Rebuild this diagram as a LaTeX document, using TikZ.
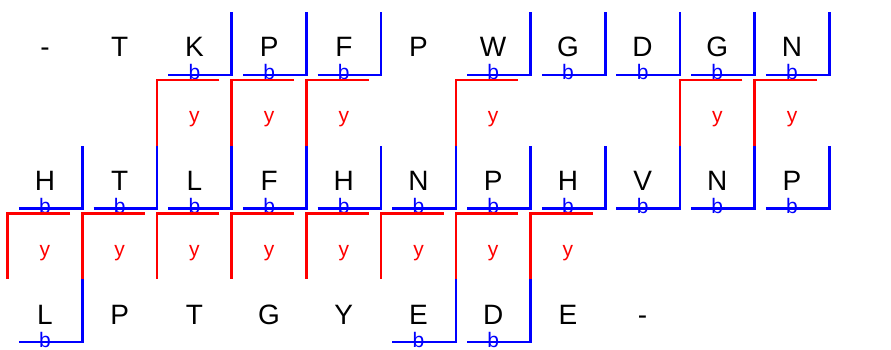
\documentclass[tikz,border=0pt]{standalone}
\usepackage{fontspec}
\setmainfont{Liberation Sans}
\definecolor{matchblue}{RGB}{0,0,255}
\definecolor{gapred}{RGB}{255,0,0}
\tikzset{
  letter/.style={anchor=base,inner sep=0pt,font=\fontsize{28}{30}\selectfont},
  tag/.style={anchor=base,inner sep=0pt,font=\fontsize{21}{23}\selectfont},
  bluebox/.style={matchblue,line width=2.6pt},
  redbox/.style={gapred,line width=2.6pt},
}
\begin{document}
\begin{tikzpicture}[x=74.7pt,y=-1pt]
  \useasboundingbox (-0.6024,0) rectangle (11.3253,350);
  % top row
  \foreach \c/\t in {0/-,1/T,2/K,3/P,4/F,5/P,6/W,7/G,8/D,9/G,10/N} {
    \node[letter] (s\c) at (\c,57) {\t};
  }
  \foreach \c in {2,3,4,6,7,8,9,10} {
    \draw[bluebox] (\c-0.35,75) -- (\c+0.5,75) -- (\c+0.5,12);
    \node[tag,matchblue] (sb\c) at (\c,80) {b};
  }
  \foreach \c in {2,3,4,6,9,10} {
    \draw[redbox] (\c+0.335,80) -- (\c-0.5,80) -- (\c-0.5,145.5);
    \node[tag,gapred] (sy\c) at (\c,123) {y};
  }
  % middle row
  \foreach \c/\t in {0/H,1/T,2/L,3/F,4/H,5/N,6/P,7/H,8/V,9/N,10/P} {
    \node[letter] (m\c) at (\c,190.5) {\t};
  }
  \foreach \c in {0,...,10} {
    \draw[bluebox] (\c-0.35,208.5) -- (\c+0.5,208.5) -- (\c+0.5,145.5);
    \node[tag,matchblue] (mb\c) at (\c,213.5) {b};
  }
  \foreach \c in {0,...,7} {
    \draw[redbox] (\c+0.335,213.5) -- (\c-0.5,213.5) -- (\c-0.5,279);
    \node[tag,gapred] (my\c) at (\c,256.5) {y};
  }
  % bottom row
  \foreach \c/\t in {0/L,1/P,2/T,3/G,4/Y,5/E,6/D,7/E,8/-} {
    \node[letter] (u\c) at (\c,324) {\t};
  }
  \foreach \c in {0,5,6} {
    \draw[bluebox] (\c-0.35,342) -- (\c+0.5,342) -- (\c+0.5,279);
    \node[tag,matchblue] (ub\c) at (\c,347) {b};
  }
\end{tikzpicture}
\end{document}
